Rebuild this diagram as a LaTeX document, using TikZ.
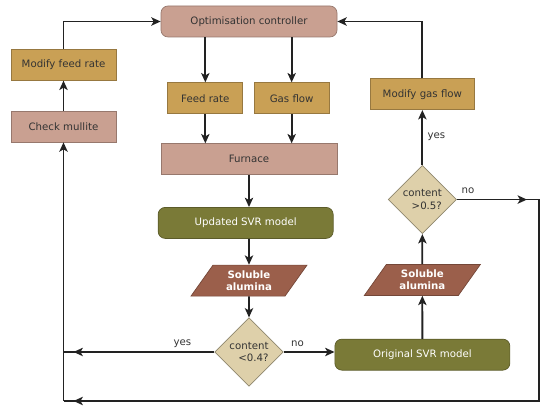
\documentclass[tikz,border=0pt]{standalone}
\usepackage{fontspec}
\setmainfont{DejaVu Sans}
\usepackage{tikz}
\usetikzlibrary{positioning,arrows.meta,shapes.geometric}
\definecolor{RoseBox}{HTML}{C9A091}
\definecolor{GoldBox}{HTML}{C9A055}
\definecolor{OliveBox}{HTML}{7A7A37}
\definecolor{RustBox}{HTML}{9B5F4B}
\definecolor{SandBox}{HTML}{DED0AA}
\definecolor{InkGrey}{HTML}{222222}
\definecolor{TextGrey}{HTML}{333333}

\begin{document}
\begin{tikzpicture}[
    font=\fontsize{8.7}{10.4}\selectfont,
    boxbase/.style={minimum height=0.93cm, align=center, text=TextGrey, inner sep=2pt, line width=0.6pt},
    rosebox/.style={boxbase, draw=RoseBox!75!black, fill=RoseBox},
    goldbox/.style={boxbase, draw=GoldBox!75!black, fill=GoldBox},
    modelbox/.style={boxbase, draw=OliveBox!75!black, fill=OliveBox, rounded corners=6pt,
      text=white, minimum width=5.25cm},
    databox/.style={boxbase, trapezium, trapezium left angle=58, trapezium right angle=122,
      trapezium stretches=true, draw=RustBox!75!black, fill=RustBox, text=white,
      font=\fontsize{8.7}{10.4}\selectfont\bfseries, minimum width=3.5cm},
    decision/.style={boxbase, diamond, draw=SandBox!65!black, fill=SandBox,
      minimum width=2.05cm, minimum height=2.05cm, inner sep=0pt, align=right},
    line/.style={line width=1.5pt, draw=InkGrey},
    arr/.style={line, -{Stealth[length=2.8mm,width=2.5mm,inset=0.7mm]}},
    lbl/.style={text=TextGrey, inner sep=1pt}
  ]
    \useasboundingbox (0,0) rectangle (16.5,-12.36);

    % main chain
    \node[rosebox, rounded corners=6pt, minimum width=5.28cm] (ctrl) at (7.47,-0.645) {Optimisation controller};
    \node[goldbox, minimum width=2.25cm, below=1.35cm of ctrl, xshift=-1.31cm] (feed) {Feed rate};
    \node[goldbox, minimum width=2.25cm, below=1.35cm of ctrl, xshift=1.28cm] (gas) {Gas flow};
    \node[rosebox, minimum width=5.28cm, below=3.18cm of ctrl] (furn) {Furnace};
    \node[modelbox, below=0.96cm of furn, xshift=-0.1cm] (upd) {Updated SVR model};
    \node[databox, below=0.78cm of upd, xshift=0.1cm] (sol1) {Soluble\\alumina};
    \node[decision, below=0.63cm of sol1] (d1) {content\\<0.4?};

    % right branch
    \node[modelbox, right=1.53cm of d1, yshift=-0.08cm] (orig) {Original SVR model};
    \node[databox, above=1.29cm of orig] (sol2) {Soluble\\alumina};
    \node[decision, above=0.9cm of sol2] (d2) {content\\>0.5?};
    \node[goldbox, minimum width=3.12cm, above=1.65cm of d2] (mgf) {Modify gas flow};

    % left branch
    \node[rosebox, minimum width=3.15cm] (chk) at (1.905,-3.795) {Check mullite};
    \node[goldbox, minimum width=3.15cm, above=0.9cm of chk] (mfr) {Modify feed rate};

    % labels
    \node[lbl] (yes1) at ([xshift=-0.96cm,yshift=0.26cm]d1.west) {yes};
    \node[lbl] (no1) at ([xshift=0.42cm,yshift=0.26cm]d1.east) {no};
    \node[lbl] (yes2) at ([xshift=0.42cm,yshift=0.84cm]d2.north) {yes};
    \node[lbl] (no2) at ([xshift=0.33cm,yshift=0.26cm]d2.east) {no};

    \coordinate (rx) at (16.17,0);
    \coordinate (by) at (0,-12.03);
    \coordinate (ne) at (d2.east -| rx);
    \coordinate (se) at (rx |- by);
    \coordinate (sw) at (chk |- by);
    \coordinate (yl) at (d1.west -| chk);

    \draw[arr] (mfr) |- (ctrl);
    \draw[arr] (mgf) |- (ctrl);
    \draw[arr] (ctrl.south -| feed) -- (feed);
    \draw[arr] (ctrl.south -| gas) -- (gas);
    \draw[arr] (feed) -- (feed |- furn.north);
    \draw[arr] (gas) -- (gas |- furn.north);
    \draw[arr] (furn) -- (furn |- upd.north);
    \draw[arr] (sol1 |- upd.south) -- (sol1);
    \draw[arr] (sol1) -- (d1);
    \draw[arr] (d1.east) -- (d1.east -| orig.west);
    \draw[arr] (orig) -- (sol2);
    \draw[arr] (sol2) -- (d2);
    \draw[arr] (d2) -- (mgf);
    \draw[arr] (chk) -- (mfr);

    % feedback loops
    \draw[line] (d2.east) -- (ne) -- (se) -- (sw);
    \draw[arr] (d2.east) -- ([xshift=-0.36cm]ne);
    \draw[arr] (se) -- ([xshift=0.3cm]sw);
    \draw[arr] (sw) -- (chk);
    \draw[line] (d1.west) -- (yl);
    \draw[arr] (d1.west) -- ([xshift=0.3cm]yl);
\end{tikzpicture}
\end{document}
